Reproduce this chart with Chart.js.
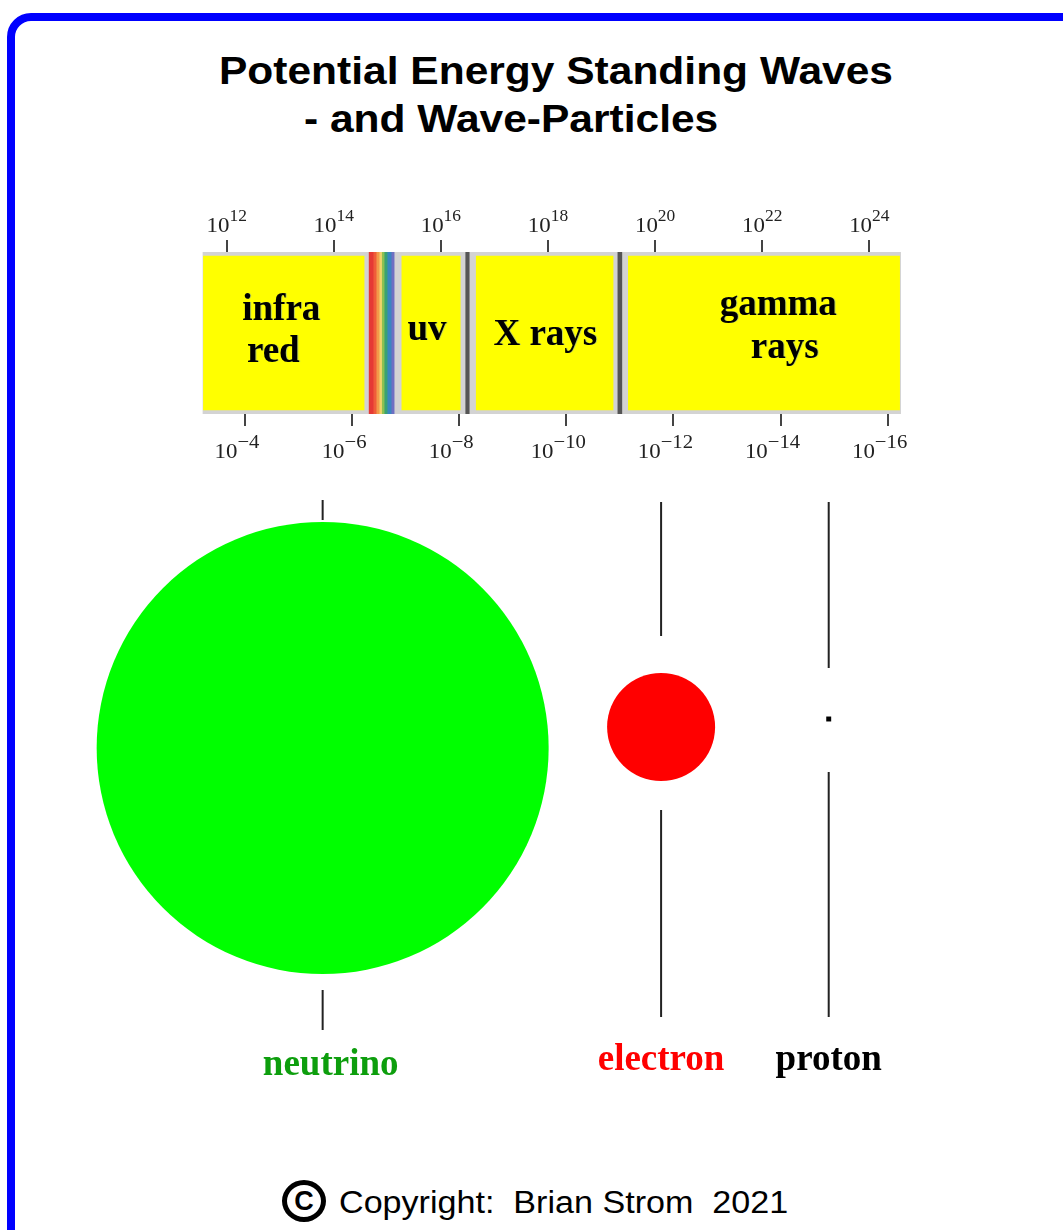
<!DOCTYPE html>
<html>
<head>
<meta charset="utf-8">
<title>Potential Energy Standing Waves</title>
<script src="https://cdn.jsdelivr.net/npm/chart.js@4.4.0/dist/chart.umd.min.js"></script>
<style>
    html, body {
        margin: 0;
        padding: 0;
        background: #fff;
        width: 1063px;
        height: 1230px;
        overflow: hidden;
        position: relative;
    }
    #frame {
        position: absolute;
        left: 7px;
        top: 13px;
        width: 1120px;
        height: 1300px;
        border: 8px solid #0000ff;
        border-radius: 24px;
        box-sizing: border-box;
    }
    .sans {
        position: absolute;
        font-family: "Liberation Sans", Arial, sans-serif;
        white-space: pre;
        transform-origin: 0 0;
        transform: scaleX(1.09);
        color: #000;
    }
    .title {
        font-weight: bold;
        font-size: 39px;
        line-height: 39px;
    }
    #copyright {
        font-size: 31px;
        line-height: 31px;
        left: 339px;
        top: 1187px;
        transform: scaleX(1.1);
    }
    #cmark {
        position: absolute;
        left: 282px;
        top: 1180px;
        width: 44px;
        height: 42px;
        box-sizing: border-box;
        border: 5px solid #000;
        border-radius: 50%;
        font-family: "Liberation Sans", Arial, sans-serif;
        font-weight: bold;
        font-size: 27px;
        line-height: 32px;
        text-align: center;
    }
    canvas {
        position: absolute;
        left: 0;
    }
    #spectrum { top: 190px; }
    #particles { top: 470px; }
</style>
</head>
<body>
<div id="frame"></div>
<div class="sans title" style="left:219px; top:51px;">Potential Energy Standing Waves</div>
<div class="sans title" style="left:304px; top:99px;">- and Wave-Particles</div>
<canvas id="spectrum" width="1063" height="280"></canvas>
<canvas id="particles" width="1063" height="640"></canvas>
<div id="cmark">C</div>
<div id="copyright" class="sans">Copyright:  Brian Strom  2021</div>

<script>
    // tick exponents: frequency 10^n Hz on top, wavelength 10^-n m below
    const freqTicks = [12, 14, 16, 18, 20, 22, 24];
    const waveTicks = [4, 6, 8, 10, 12, 14, 16];

    // spectrum pieces, as log10(frequency / Hz)
    const spectrumRange = [11.557, 24.585];
    const bandRanges = [[11.566, 14.566], [15.271, 16.361], [16.660, 19.215], [19.501, 24.566]];
    const dividerRanges = [[16.464, 16.529], [19.305, 19.379]];
    const rainbowRanges = [
        [14.660, 14.735], [14.735, 14.791], [14.791, 14.847], [14.847, 14.893],
        [14.893, 14.940], [14.940, 14.996], [14.996, 15.071], [15.071, 15.127]
    ];
    const rainbowColours = ['#e53a35', '#ef5d3a', '#f39a4a', '#f0d36a', '#8cc152', '#3aa272', '#3a86c0', '#6f6fc2'];

    const bandLabelText = ['infra', 'red', 'uv', 'X rays', 'gamma', 'rays'];
    const bandLabelFreq = [13.02, 12.87, 15.74, 17.95, 22.30, 22.42];

    // particles, placed at their wavelength as -log10(lambda / m)
    const particleNames = ['neutrino', 'electron', 'proton'];
    const particleWave = [5.45, 11.77, 14.9];

    const serif = '"Liberation Serif", "Times New Roman", serif';

    function drawPowers(ctx, scale, baseY, expY, expSize, shift, minus) {
        scale.ticks.forEach(function (tick) {
            const x = scale.getPixelForValue(tick.value) + shift;
            const exp = (minus ? '\u2212' : '') + tick.value;
            ctx.save();
            ctx.font = '21px ' + serif;
            const w1 = ctx.measureText('10').width;
            ctx.font = expSize + 'px ' + serif;
            const w2 = ctx.measureText(exp).width;
            ctx.translate(x, 0);
            ctx.scale(1.09, 1);
            const left = -(w1 + w2) / 2;
            ctx.fillStyle = '#222';
            ctx.textAlign = 'left';
            ctx.textBaseline = 'alphabetic';
            ctx.font = '21px ' + serif;
            ctx.fillText('10', left, baseY);
            ctx.font = expSize + 'px ' + serif;
            ctx.fillText(exp, left + w1, expY);
            ctx.restore();
        });
    }

    const spectrumText = {
        id: 'spectrumText',
        afterDraw(chart) {
            const ctx = chart.ctx;
            const area = chart.chartArea;
            drawPowers(ctx, chart.scales.x, area.top - 20, area.top - 31, 16, 0, false);
            drawPowers(ctx, chart.scales.x2, area.bottom + 44, area.bottom + 34, 19, -8, true);

            const lineOffsets = [68, 110, 88, 93, 63, 106];
            ctx.save();
            ctx.font = 'bold 37px ' + serif;
            ctx.fillStyle = '#000';
            ctx.textAlign = 'center';
            ctx.textBaseline = 'alphabetic';
            ctx.shadowColor = 'rgba(60, 120, 255, 0.35)';
            ctx.shadowOffsetX = 1;
            ctx.shadowOffsetY = 0;
            bandLabelText.forEach(function (text, i) {
                ctx.fillText(text, chart.scales.x.getPixelForValue(bandLabelFreq[i]), area.top + lineOffsets[i]);
            });
            ctx.restore();
        }
    };

    function renderSpectrum() {
        const datasets = [];

        datasets.push({
            data: [spectrumRange],
            backgroundColor: '#d3d3d3',
            barThickness: 162,
            order: 3
        });

        bandRanges.forEach(function (range, i) {
            datasets.push({
                label: 'band ' + i,
                data: [range],
                backgroundColor: '#ffff00',
                barThickness: 154,
                order: 2
            });
        });

        rainbowRanges.forEach(function (range, i) {
            datasets.push({
                data: [range],
                backgroundColor: rainbowColours[i],
                barThickness: 162,
                order: 1
            });
        });

        dividerRanges.forEach(function (range) {
            datasets.push({
                data: [range],
                backgroundColor: '#555555',
                barThickness: 162,
                order: 1
            });
        });

        datasets.forEach(function (ds) {
            ds.grouped = false;
            ds.borderWidth = 0;
        });

        const axisGrid = {
            drawOnChartArea: false,
            drawTicks: true,
            tickLength: 12,
            tickColor: '#444',
            lineWidth: 2
        };

        return new Chart(document.getElementById('spectrum'), {
            type: 'bar',
            data: {
                labels: ['spectrum'],
                datasets: datasets
            },
            options: {
                indexAxis: 'y',
                responsive: false,
                animation: false,
                events: [],
                layout: { padding: 0, autoPadding: false },
                plugins: {
                    legend: { display: false },
                    tooltip: { enabled: false }
                },
                scales: {
                    x: {
                        type: 'linear',
                        axis: 'x',
                        position: 'top',
                        min: 7.767,
                        max: 27.617,
                        afterBuildTicks: function (scale) {
                            scale.ticks = freqTicks.map(function (v) { return { value: v }; });
                        },
                        afterFit: function (scale) { scale.height = 62; },
                        grid: axisGrid,
                        border: { display: false },
                        ticks: { display: false }
                    },
                    x2: {
                        type: 'linear',
                        axis: 'x',
                        position: 'bottom',
                        min: -0.575,
                        max: 19.275,
                        afterBuildTicks: function (scale) {
                            scale.ticks = waveTicks.map(function (v) { return { value: v }; });
                        },
                        afterFit: function (scale) { scale.height = 56; },
                        grid: axisGrid,
                        border: { display: false },
                        ticks: { display: false }
                    },
                    y: {
                        display: false
                    }
                }
            },
            plugins: [spectrumText]
        });
    }

    function renderParticles() {
        // layout in px from the top of this canvas
        const centreY = [278, 257, 249];
        const upperLine = [[30, 50], [32, 166], [32, 198]];
        const lowerLine = [[520, 560], [340, 547], [302, 547]];
        const labelY = [605, 600, 600];
        const labelShift = [8, 0, 0];
        const labelColours = ['#0d9e0d', '#ff0000', '#000000'];

        const datasets = [{
            data: particleWave.map(function (w, i) { return { x: w, y: centreY[i] }; }),
            pointRadius: [226, 54, 3.5],
            pointStyle: ['circle', 'circle', 'rect'],
            pointBackgroundColor: ['#00ff00', '#ff0000', '#000000'],
            pointBorderWidth: 0,
            showLine: false,
            clip: false
        }];

        particleWave.forEach(function (w, i) {
            [upperLine[i], lowerLine[i]].forEach(function (seg) {
                datasets.push({
                    data: [{ x: w, y: seg[0] }, { x: w, y: seg[1] }],
                    showLine: true,
                    borderColor: '#222',
                    borderWidth: 2,
                    pointRadius: 0,
                    clip: false
                });
            });
        });

        const particleText = {
            id: 'particleText',
            afterDraw(chart) {
                const ctx = chart.ctx;
                ctx.save();
                ctx.font = 'bold 37px ' + serif;
                ctx.textAlign = 'center';
                ctx.textBaseline = 'alphabetic';
                particleNames.forEach(function (name, i) {
                    ctx.fillStyle = labelColours[i];
                    ctx.fillText(name, chart.scales.x.getPixelForValue(particleWave[i]) + labelShift[i], labelY[i]);
                });
                ctx.restore();
            }
        };

        return new Chart(document.getElementById('particles'), {
            type: 'scatter',
            data: { datasets: datasets },
            options: {
                responsive: false,
                animation: false,
                events: [],
                layout: { padding: 0, autoPadding: false },
                plugins: {
                    legend: { display: false },
                    tooltip: { enabled: false }
                },
                scales: {
                    x: { type: 'linear', display: false, min: -0.575, max: 19.275 },
                    y: { type: 'linear', display: false, min: 0, max: 640, reverse: true }
                }
            },
            plugins: [particleText]
        });
    }

    window.spectrumChart = renderSpectrum();
    window.particleChart = renderParticles();
</script>
</body>
</html>
